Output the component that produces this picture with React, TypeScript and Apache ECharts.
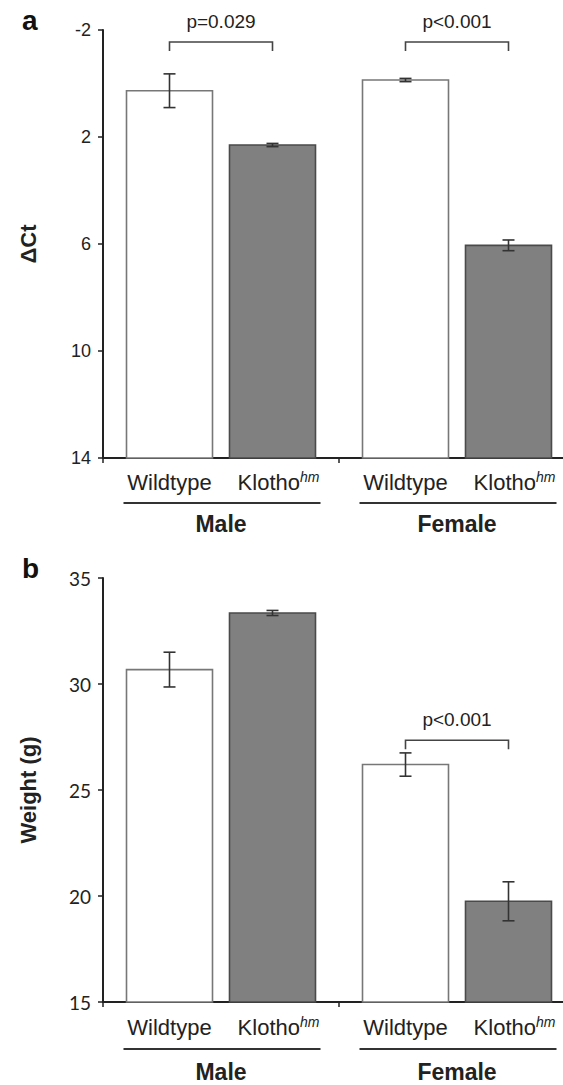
import React, { useEffect, useRef } from 'react';
import * as echarts from 'echarts';

// ---------- data ----------
const sexes = ['Male', 'Female'];
const genotypes = ['Wildtype', 'Klotho'];
const genotypeSuperscript = ['', 'hm'];

const dctTicks = [-2, 2, 6, 10, 14];
const dctWildtype = [0.27, -0.13];
const dctWildtypeErr = [0.63, 0.06];
const dctKlotho = [2.3, 6.05];
const dctKlothoErr = [0.06, 0.2];
const dctPValues = ['p=0.029', 'p<0.001'];
const dctBracketLevel = [-1.55, -1.55];

const weightTicks = [15, 20, 25, 30, 35];
const weightWildtype = [30.68, 26.2];
const weightWildtypeErr = [0.82, 0.55];
const weightKlotho = [33.35, 19.75];
const weightKlothoErr = [0.12, 0.92];
const weightPValues = ['', 'p<0.001'];
const weightBracketLevel: (number | null)[] = [null, 27.35];

// ---------- style ----------
const FONT = '"Liberation Sans", Arial, sans-serif';
const FONT_B = 'Lato, "Liberation Sans", sans-serif';
const INK = '#222';
const BAR_W = 86;
const BAR_GAP = 17;
const OFFSET = (BAR_W + BAR_GAP) / 2;
const CAP = 6;

function barSeries(g: number, values: number[], base: number, sign: number, fill: string, stroke: string) {
  return {
    type: 'custom',
    xAxisIndex: g,
    yAxisIndex: g,
    data: values.map((v, i) => [i, v]),
    renderItem: (_p: any, api: any) => {
      const cat = api.value(0);
      const top = api.coord([cat, api.value(1)]);
      const bot = api.coord([cat, base]);
      const cx = top[0] + sign * OFFSET;
      return {
        type: 'rect',
        shape: { x: cx - BAR_W / 2, y: Math.min(top[1], bot[1]), width: BAR_W, height: Math.abs(bot[1] - top[1]) },
        style: { fill, stroke, lineWidth: 1.6 },
      };
    },
  };
}

function errSeries(g: number, values: number[], errs: number[], sign: number) {
  return {
    type: 'custom',
    xAxisIndex: g,
    yAxisIndex: g,
    z: 5,
    data: values.map((v, i) => [i, v, errs[i]]),
    renderItem: (_p: any, api: any) => {
      const cat = api.value(0);
      const v = api.value(1);
      const e = api.value(2);
      const p1 = api.coord([cat, v - e]);
      const p2 = api.coord([cat, v + e]);
      const cx = p1[0] + sign * OFFSET;
      const st = { stroke: '#333', lineWidth: 1.6 };
      return {
        type: 'group',
        children: [
          { type: 'line', shape: { x1: cx, y1: p1[1], x2: cx, y2: p2[1] }, style: st },
          { type: 'line', shape: { x1: cx - CAP, y1: p1[1], x2: cx + CAP, y2: p1[1] }, style: st },
          { type: 'line', shape: { x1: cx - CAP, y1: p2[1], x2: cx + CAP, y2: p2[1] }, style: st },
        ],
      };
    },
  };
}

function bracketSeries(g: number, levels: (number | null)[], labels: string[]) {
  return {
    type: 'custom',
    xAxisIndex: g,
    yAxisIndex: g,
    data: levels.map((l, i) => (l === null ? null : [i, l])).filter((d) => d !== null),
    renderItem: (_p: any, api: any) => {
      const cat = api.value(0);
      const c = api.coord([cat, api.value(1)]);
      const x1 = c[0] - OFFSET;
      const x2 = c[0] + OFFSET;
      const y = c[1];
      return {
        type: 'group',
        children: [
          {
            type: 'polyline',
            shape: { points: [[x1, y + 9], [x1, y], [x2, y], [x2, y + 9]] },
            style: { stroke: '#444', lineWidth: 1.6, fill: null },
          },
          {
            type: 'text',
            x: c[0],
            y: y - 21,
            style: { text: labels[cat], fontSize: 19, fontFamily: FONT, fill: INK, align: 'center', verticalAlign: 'middle' },
          },
        ],
      };
    },
  };
}

function groupLabelSeries(g: number, base: number, labelDy: number, ruleDy: number) {
  return {
    type: 'custom',
    xAxisIndex: g,
    yAxisIndex: g,
    data: sexes.map((_s, i) => [i, base]),
    renderItem: (_p: any, api: any) => {
      const cat = api.value(0);
      const c = api.coord([cat, base]);
      const children: any[] = genotypes.map((gname, k) => {
        const sup = genotypeSuperscript[k];
        return {
          type: 'text',
          x: c[0] + (k === 0 ? -OFFSET : OFFSET) + (sup ? 6 : 0),
          y: c[1] + labelDy,
          style: {
            text: sup ? `{n|${gname}}{s|${sup}}` : gname,
            rich: {
              n: { fontSize: 22, fontFamily: FONT, fill: INK, lineHeight: 25 },
              s: { fontSize: 14, fontStyle: 'italic', fontFamily: FONT, fill: INK, verticalAlign: 'top', lineHeight: 14 },
            },
            fontSize: 22,
            fontFamily: FONT,
            fill: INK,
            align: 'center',
            verticalAlign: 'middle',
          },
        };
      });
      children.push({
        type: 'line',
        shape: { x1: c[0] - OFFSET - BAR_W / 2 - 3, y1: c[1] + ruleDy, x2: c[0] + OFFSET + BAR_W / 2 + 5, y2: c[1] + ruleDy },
        style: { stroke: '#333', lineWidth: 2 },
      });
      return { type: 'group', children };
    },
  };
}

function xAxisFor(g: number, margin: number) {
  return {
    gridIndex: g,
    type: 'category',
    data: sexes,
    boundaryGap: true,
    axisLine: { show: true, onZero: false, lineStyle: { color: INK, width: 2 } },
    axisTick: { show: true, length: 5, lineStyle: { color: INK, width: 1.5 } },
    axisLabel: { fontWeight: 'bold', fontSize: 23, fontFamily: FONT, color: INK, margin },
    splitLine: { show: false },
  };
}

export default function App() {
  const ref = useRef<HTMLDivElement>(null);
  useEffect(() => {
    if (!ref.current) return;
    const chart = echarts.init(ref.current, null, { renderer: 'svg' });
    chart.setOption({
      animation: false,
      backgroundColor: '#fff',
      grid: [
        { left: 103, top: 30, width: 472, height: 428, outerBoundsMode: 'none', containLabel: false },
        { left: 103, top: 578, width: 472, height: 424, outerBoundsMode: 'none', containLabel: false },
      ],
      xAxis: [xAxisFor(0, 54), xAxisFor(1, 58)],
      yAxis: [
        {
          gridIndex: 0,
          type: 'value',
          inverse: true,
          min: dctTicks[0],
          max: dctTicks[dctTicks.length - 1],
          interval: 4,
          axisLine: { show: true, lineStyle: { color: INK, width: 2 } },
          axisTick: { show: true, length: 5, customValues: dctTicks, lineStyle: { color: INK, width: 1.5 } },
          axisLabel: { customValues: dctTicks, fontSize: 18, fontFamily: FONT, color: INK, margin: 12 },
          splitLine: { show: false },
          name: '\u0394Ct',
          nameLocation: 'middle',
          nameGap: 64,
          nameTextStyle: { fontWeight: 'bold', fontSize: 22, fontFamily: FONT, color: INK },
        },
        {
          gridIndex: 1,
          type: 'value',
          min: weightTicks[0],
          max: weightTicks[weightTicks.length - 1],
          interval: 5,
          axisLine: { show: true, lineStyle: { color: INK, width: 2 } },
          axisTick: { show: true, length: 5, customValues: weightTicks, lineStyle: { color: INK, width: 1.5 } },
          axisLabel: { customValues: weightTicks, fontSize: 19, fontFamily: FONT_B, color: INK, margin: 12 },
          splitLine: { show: false },
          name: 'Weight (g)',
          nameLocation: 'middle',
          nameGap: 64,
          nameTextStyle: { fontWeight: 'bold', fontSize: 22, fontFamily: FONT, color: INK },
        },
      ],
      graphic: [
        { type: 'text', left: 22, top: 6, style: { text: 'a', fontSize: 28, fontWeight: 'bold', fontFamily: FONT, fill: '#111' } },
        { type: 'text', left: 22, top: 554, style: { text: 'b', fontSize: 28, fontWeight: 'bold', fontFamily: FONT, fill: '#111' } },
      ],
      series: [
        barSeries(0, dctWildtype, dctTicks[dctTicks.length - 1], -1, '#ffffff', '#777777'),
        barSeries(0, dctKlotho, dctTicks[dctTicks.length - 1], 1, '#808080', '#4a4a4a'),
        errSeries(0, dctWildtype, dctWildtypeErr, -1),
        errSeries(0, dctKlotho, dctKlothoErr, 1),
        bracketSeries(0, dctBracketLevel, dctPValues),
        groupLabelSeries(0, dctTicks[dctTicks.length - 1], 24, 45),
        barSeries(1, weightWildtype, weightTicks[0], -1, '#ffffff', '#777777'),
        barSeries(1, weightKlotho, weightTicks[0], 1, '#808080', '#4a4a4a'),
        errSeries(1, weightWildtype, weightWildtypeErr, -1),
        errSeries(1, weightKlotho, weightKlothoErr, 1),
        bracketSeries(1, weightBracketLevel, weightPValues),
        groupLabelSeries(1, weightTicks[0], 25, 47),
      ],
    });
    return () => chart.dispose();
  }, []);
  return <div ref={ref} style={{ position: 'absolute', left: 0, top: 0, width: 563, height: 1085 }} />;
}
